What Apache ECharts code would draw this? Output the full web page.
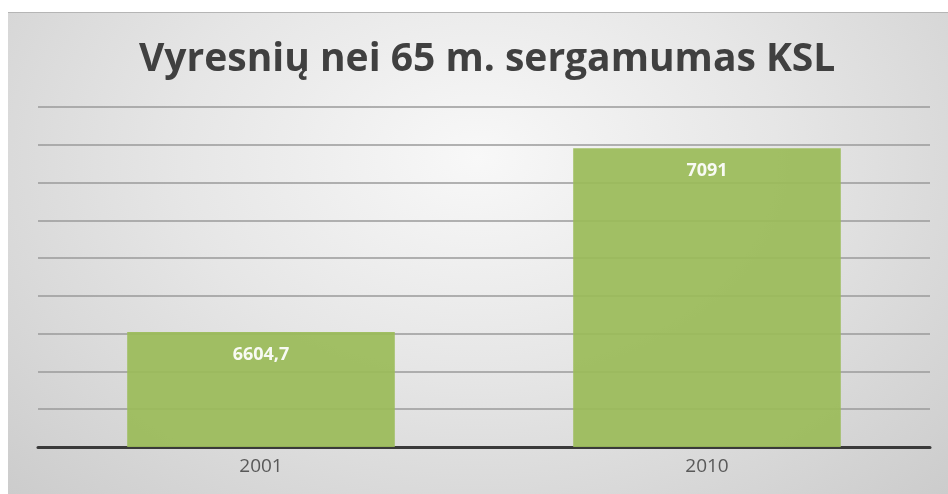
<!DOCTYPE html>
<html>
<head>
<meta charset="utf-8">
<script src="https://cdn.jsdelivr.net/npm/echarts@6/dist/echarts.min.js"></script>
<style>
  html, body { margin: 0; padding: 0; background: #fff; }
  #wrap { position: relative; width: 948px; height: 494px; overflow: hidden; }
  #panel {
    position: absolute; left: 8px; top: 12px; right: 0; bottom: 0;
    border-top: 1px solid #b5b5b5;
    background: radial-gradient(ellipse at 50% 30%, #f8f8f8 0%, #e6e6e6 45%, #cccccc 100%);
  }
  #chart { position: absolute; left: 0; top: 0; width: 948px; height: 494px; }
</style>
</head>
<body>
<div id="wrap">
  <div id="panel"></div>
  <div id="chart"></div>
</div>
<script>
// data
var years = ['2001', '2010'];
var values = [6604.7, 7091];
var axisMin = 6300, axisMax = 7200, axisStep = 100;

var myChart = echarts.init(document.getElementById('chart'));
var option = {
	backgroundColor: 'transparent',
	title: {
		text: 'Vyresnių nei 65 m. sergamumas KSL',
		left: 134,
		top: 35,
		textStyle: {
			fontFamily: 'Open Sans',
			fontWeight: 'bold',
			fontSize: 39,
			color: '#404040'
		}
	},
	grid: {
		left: 38,
		right: 18,
		top: 107,
		bottom: 47
	},
	xAxis: {
		type: 'category',
		data: years,
		axisTick: { show: false },
		axisLine: { lineStyle: { color: '#3a3a3a', width: 3 } },
		axisLabel: {
			color: '#595959',
			fontFamily: 'Open Sans',
			fontSize: 19,
			margin: 10
		}
	},
	yAxis: {
		type: 'value',
		min: axisMin,
		max: axisMax,
		interval: axisStep,
		axisLabel: { show: false },
		axisLine: { show: false },
		axisTick: { show: false },
		splitLine: { lineStyle: { color: '#9a9a9a', width: 1.5 } }
	},
	series: [{
		type: 'bar',
		data: values,
		barWidth: '60%',
		itemStyle: { color: '#9bbb59', opacity: 0.93 },
		label: {
			show: true,
			position: 'insideTop',
			distance: 14,
			color: '#ffffff',
			fontFamily: 'Open Sans',
			fontWeight: 'bold',
			fontSize: 18,
			formatter: function (p) {
				return String(p.value).replace('.', ',');
			}
		}
	}]
};
myChart.setOption(option);
</script>
</body>
</html>
